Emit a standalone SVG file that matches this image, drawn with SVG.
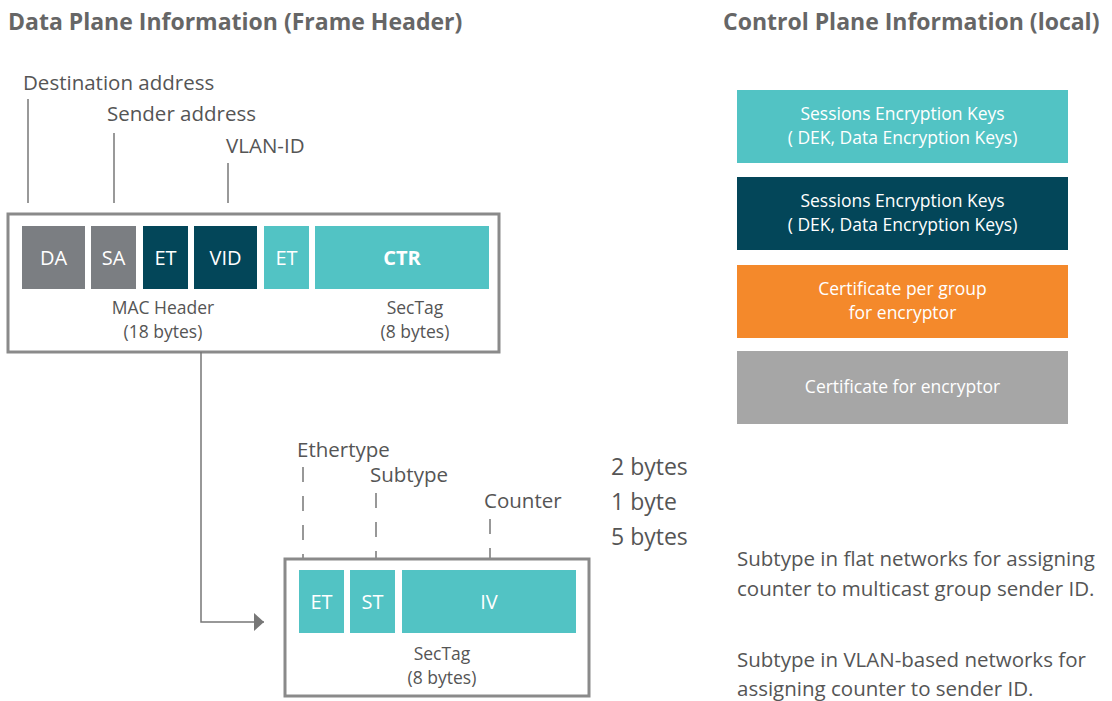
<svg xmlns="http://www.w3.org/2000/svg" width="1112" height="701" viewBox="0 0 1112 701">
<style>
text{font-family:"Open Sans","Liberation Sans",sans-serif;}
.title{font-size:23px;font-weight:bold;fill:#666;}
.lbl{font-size:20.5px;fill:#555;}
.big{font-size:23px;fill:#555;}
.cap{font-size:17.5px;fill:#555;text-anchor:middle;}
.fld{font-size:20px;fill:#fff;text-anchor:middle;}
.ctl{font-size:17.5px;fill:#fff;text-anchor:middle;}
.frame{fill:#fff;stroke:#8a8a8a;stroke-width:3;}
.tick{stroke:#777;stroke-width:1.5;fill:none;}
.dash{stroke:#777;stroke-width:1.5;fill:none;stroke-dasharray:15 14;}
.teal{fill:#52c3c4;}
.dark{fill:#034659;}
.gray{fill:#7b7e82;}
</style>
<defs>
<marker id="arr" markerWidth="10" markerHeight="18" refX="10" refY="9" orient="auto" markerUnits="userSpaceOnUse">
<path d="M0,0 L10,9 L0,18 Z" fill="#777"/>
</marker>
</defs>
<rect width="1112" height="701" fill="#fff"/>
<text class="title" x="8" y="30">Data Plane Information (Frame Header)</text>
<text class="title" x="723" y="30">Control Plane Information (local)</text>

<g id="labels-top">
<text class="lbl" x="23" y="90">Destination address</text>
<text class="lbl" x="107" y="121">Sender address</text>
<text class="lbl" x="226" y="153">VLAN-ID</text>
<line class="tick" x1="28" y1="99" x2="28" y2="203"/>
<line class="tick" x1="114" y1="133" x2="114" y2="203"/>
<line class="tick" x1="228" y1="163" x2="228" y2="203"/>
</g>

<g id="frame-header">
<rect class="frame" x="8" y="214" width="491" height="138"/>
<rect class="gray" x="22" y="226" width="63" height="63"/>
<text class="fld" x="53.5" y="265">DA</text>
<rect class="gray" x="91" y="226" width="45" height="63"/>
<text class="fld" x="113.5" y="265">SA</text>
<rect class="dark" x="143" y="226" width="45" height="63"/>
<text class="fld" x="165.5" y="265">ET</text>
<rect class="dark" x="194" y="226" width="63" height="63"/>
<text class="fld" x="225.5" y="265">VID</text>
<rect class="teal" x="264" y="226" width="45" height="63"/>
<text class="fld" x="286.5" y="265">ET</text>
<rect class="teal" x="315" y="226" width="174" height="63"/>
<text class="fld" x="402" y="265" font-weight="bold">CTR</text>
<text class="cap" x="163" y="314">MAC Header</text>
<text class="cap" x="163" y="338">(18 bytes)</text>
<text class="cap" x="415" y="314">SecTag</text>
<text class="cap" x="415" y="338">(8 bytes)</text>
</g>

<g id="connectors">
<polyline class="tick" points="201,352 201,622 264,622" marker-end="url(#arr)" stroke="#888"/>
</g>

<g id="sectag-labels">
<text class="lbl" x="297" y="457">Ethertype</text>
<text class="lbl" x="370" y="482">Subtype</text>
<text class="lbl" x="484" y="508">Counter</text>
<line class="dash" x1="303" y1="467" x2="303" y2="570"/>
<line class="dash" x1="376" y1="493" x2="376" y2="570"/>
<line class="dash" x1="490" y1="519" x2="490" y2="570"/>
<text class="big" x="611" y="475">2 bytes</text>
<text class="big" x="611" y="510">1 byte</text>
<text class="big" x="611" y="545">5 bytes</text>
</g>

<g id="sectag">
<rect class="frame" x="285" y="559" width="304" height="137"/>
<rect class="teal" x="299" y="570" width="45" height="63"/>
<text class="fld" x="321.5" y="609">ET</text>
<rect class="teal" x="350" y="570" width="45" height="63"/>
<text class="fld" x="372.5" y="609">ST</text>
<rect class="teal" x="402" y="570" width="174" height="63"/>
<text class="fld" x="489" y="609">IV</text>
<text class="cap" x="442" y="660">SecTag</text>
<text class="cap" x="442" y="684">(8 bytes)</text>
</g>

<g id="ctl-1">
<rect class="teal" x="737" y="90" width="331" height="73"/>
<text class="ctl" x="902.5" y="120">Sessions Encryption Keys</text>
<text class="ctl" x="902.5" y="144">( DEK, Data Encryption Keys)</text>
</g>
<g id="ctl-2">
<rect class="dark" x="737" y="177" width="331" height="73"/>
<text class="ctl" x="902.5" y="207">Sessions Encryption Keys</text>
<text class="ctl" x="902.5" y="231">( DEK, Data Encryption Keys)</text>
</g>
<g id="ctl-3">
<rect fill="#f4892b" x="737" y="265" width="331" height="73"/>
<text class="ctl" x="902.5" y="295">Certificate per group</text>
<text class="ctl" x="902.5" y="319">for encryptor</text>
</g>
<g id="ctl-4">
<rect fill="#a6a6a6" x="737" y="351" width="331" height="73"/>
<text class="ctl" x="902.5" y="393">Certificate for encryptor</text>
</g>

<g id="notes">
<text class="lbl" x="737" y="566">Subtype in flat networks for assigning</text>
<text class="lbl" x="737" y="596">counter to multicast group sender ID.</text>
<text class="lbl" x="737" y="667">Subtype in VLAN-based networks for</text>
<text class="lbl" x="737" y="696">assigning counter to sender ID.</text>
</g>
</svg>
